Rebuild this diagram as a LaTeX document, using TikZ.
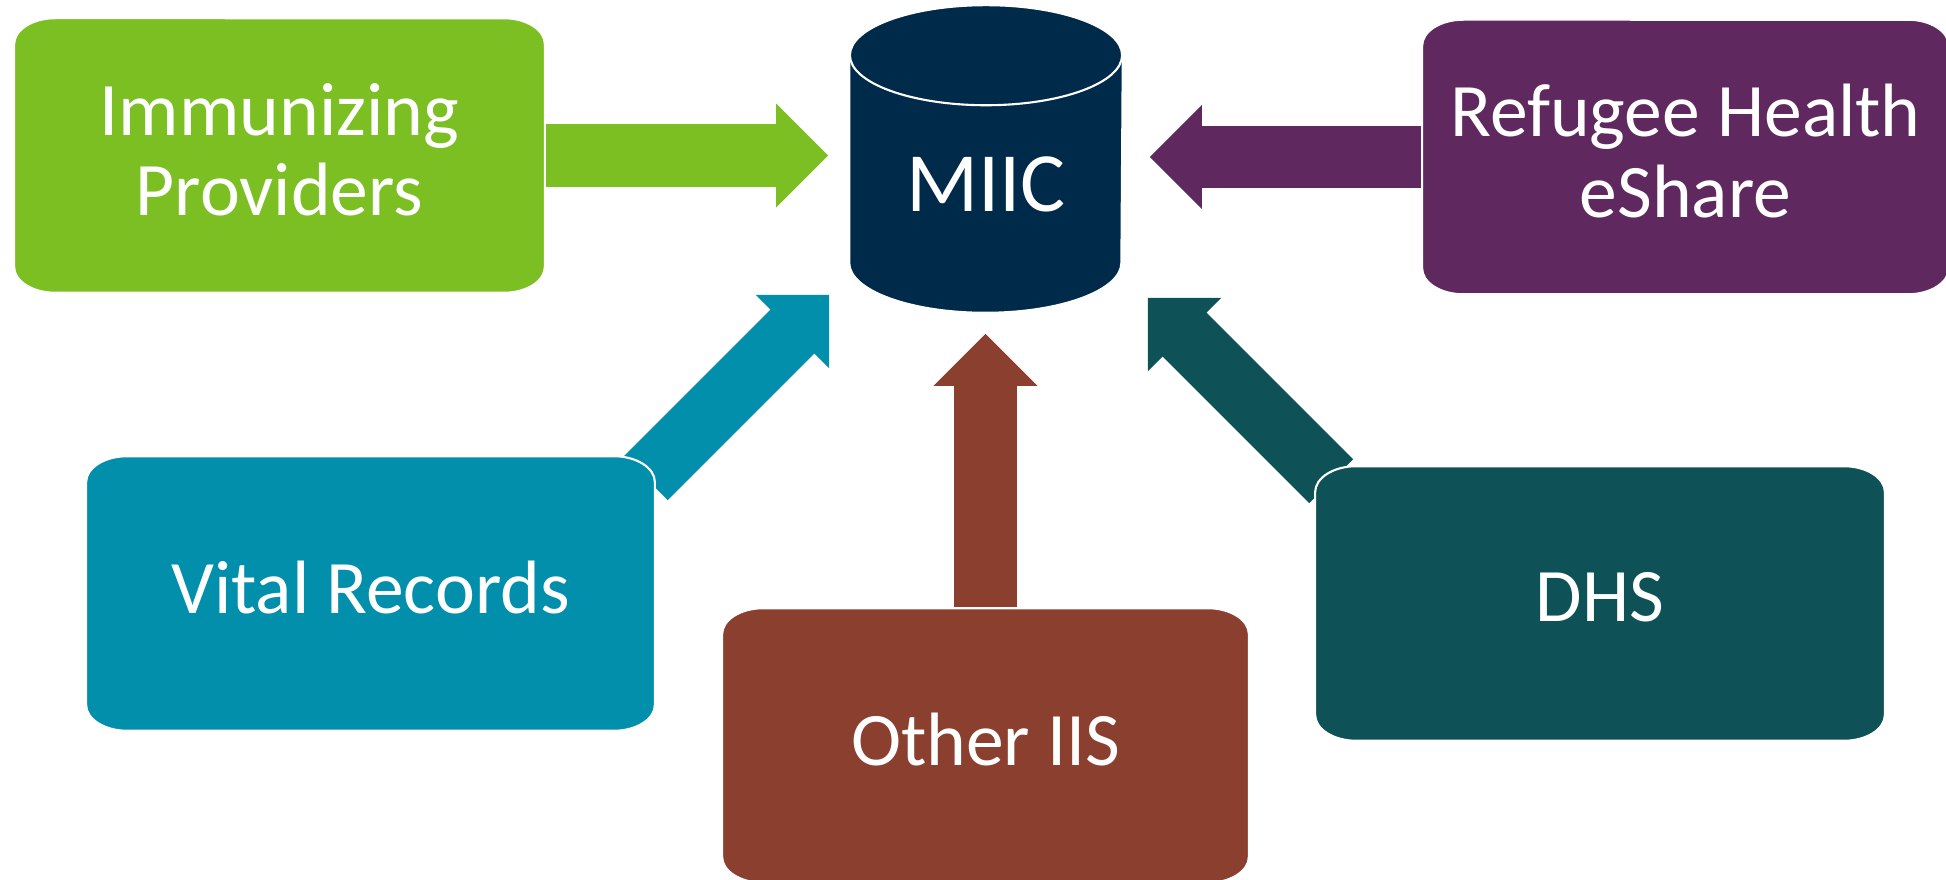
\documentclass[tikz,border=0pt]{standalone}
\usepackage{fontspec}
\setmainfont{Carlito}
\definecolor{mygreen}{RGB}{123,191,35}
\definecolor{mynavy}{RGB}{0,42,74}
\definecolor{mypurple}{RGB}{95,41,95}
\definecolor{myteal}{RGB}{2,143,172}
\definecolor{mydarkteal}{RGB}{14,82,87}
\definecolor{mybrown}{RGB}{139,63,46}
\usetikzlibrary{arrows.meta,backgrounds,calc}

\begin{document}
\begin{tikzpicture}[x=0.01cm,y=0.01cm,
    every node/.style={text=white,align=center,font=\fontsize{21.5}{22.8}\selectfont},
    srcnode/.style={minimum height=2.73cm,text depth=3.5pt},
    dbnode/.style={minimum width=2.72cm,minimum height=2.56cm,font=\fontsize{24}{28}\selectfont},
    edgeline/.style={draw=white,line width=0.6pt},
    flow/.style={line width=0.62cm,-{Triangle[length=0.52cm,width=1.03cm,line width=1pt]}}
    ]
    \useasboundingbox (0,0) rectangle (1946,-880);

    % the sources
    \node[srcnode,minimum width=5.29cm] (imm) at (279.5,-155.5) {Immunizing\\Providers};
    \node[srcnode,minimum width=5.25cm] (ref) at (1685.5,-157) {Refugee Health\\eShare};
    \node[srcnode,minimum width=5.67cm] (vital) at (370.5,-593.5) {Vital Records};
    \node[srcnode,minimum width=5.25cm] (oth) at (985.5,-745.5) {Other IIS};
    \node[srcnode,minimum width=5.68cm] (dhs) at (1600,-603.5) {DHS};

    % the database
    \node[dbnode] (miic) at (986,-184) {MIIC};

    \begin{scope}[on background layer]
    % the cylinder
    \filldraw[fill=mynavy,edgeline] (miic.north west) -- ($(miic.south west)+(0,50)$)
        arc[start angle=180,end angle=360,x radius=1.36cm,y radius=0.5cm] -- (miic.north east) -- cycle;
    \filldraw[fill=mynavy,edgeline] (miic.north) ellipse[x radius=1.36cm,y radius=0.5cm];

    % the arrows
    \draw[flow,mygreen,shorten >=0.21cm] (imm.east) -- (imm.east -| miic.west);
    \draw[flow,mypurple,shorten >=0.27cm] (ref.west) -- (ref.west -| miic.east);
    \draw[flow,mybrown,shorten >=0.21cm] (oth.north) -- (oth.north |- miic.south);
    \draw[flow,myteal] ($(vital.north east)+(-9,-22)$) -- ($(miic.south west)+(-20,18)$);
    \draw[flow,mydarkteal] ($(dhs.north west)+(16,-15)$) -- ($(miic.south east)+(25,15)$);

    % the boxes, over the arrow tails
    \foreach \n/\c in {imm/mygreen,ref/mypurple,vital/myteal,oth/mybrown,dhs/mydarkteal}
      \filldraw[fill=\c,edgeline] ($(\n.south west)+(0,26)$) -- ($(\n.north west)+(0,-26)$)
        arc[start angle=180,end angle=90,x radius=0.41cm,y radius=0.26cm] -- ($(\n.north east)+(-41,0)$)
        arc[start angle=90,end angle=0,x radius=0.41cm,y radius=0.26cm] -- ($(\n.south east)+(0,26)$)
        arc[start angle=0,end angle=-90,x radius=0.41cm,y radius=0.26cm] -- ($(\n.south west)+(41,0)$)
        arc[start angle=270,end angle=180,x radius=0.41cm,y radius=0.26cm] -- cycle;
    \end{scope}
\end{tikzpicture}
\end{document}
